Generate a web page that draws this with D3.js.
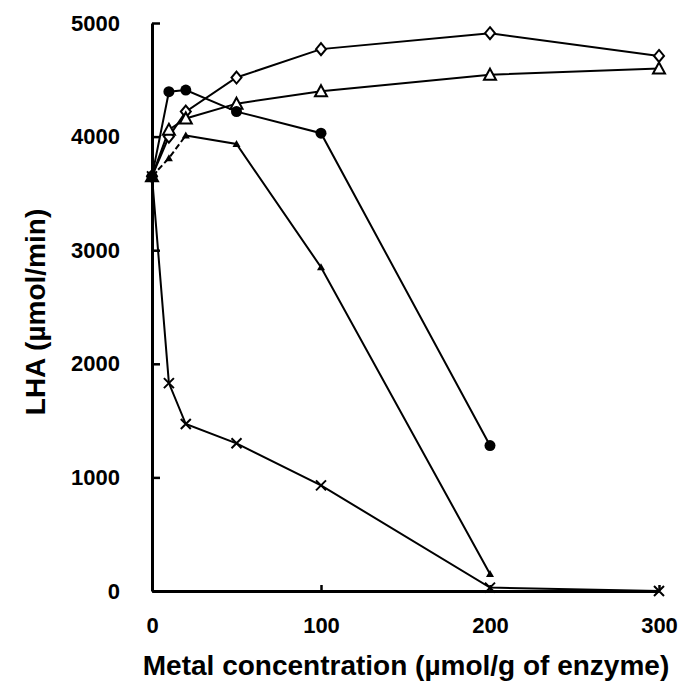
<!DOCTYPE html>
<html>
<head>
<meta charset="utf-8">
<script src="https://cdn.jsdelivr.net/npm/d3@7"></script>
<style>
  body { margin: 0; background: #fff; }
  text { font-family: "Liberation Sans", Arial, sans-serif; font-weight: bold; fill: #000; }
</style>
</head>
<body>
<div id="chart-area"></div>
<script>
const MARGIN = { LEFT: 152, RIGHT: 33, TOP: 23, BOTTOM: 100 }
const WIDTH = 692 - MARGIN.LEFT - MARGIN.RIGHT
const HEIGHT = 691 - MARGIN.TOP - MARGIN.BOTTOM

// Data (metal concentration vs LHA)
const concentrations = [0, 10, 20, 50, 100, 200, 300]
const diamondVals  = [3650, 4000, 4220, 4520, 4770, 4910, 4710]
const triangleVals = [3650, 4060, 4160, 4290, 4400, 4545, 4600]
const circleVals   = [3650, 4395, 4410, 4220, 4030, 1280]
const smallTriVals = [3650, 3810, 4010, 3935, 2850, 150]
const crossVals    = [3650, 1830, 1470, 1300, 930, 30, 0]
const xTicks = [0, 100, 200, 300]
const yTicks = [0, 1000, 2000, 3000, 4000, 5000]

const svg = d3.select("#chart-area").append("svg")
    .attr("width", 692)
    .attr("height", 691)

const g = svg.append("g")
    .attr("transform", `translate(${MARGIN.LEFT}, ${MARGIN.TOP})`)

// Scales
const x = d3.scaleLinear().range([0, WIDTH]).domain([0, 300])
const y = d3.scaleLinear().range([HEIGHT, 0]).domain([0, 5000])

const pts = vals => vals.map((v, i) => [concentrations[i], v])
const line = d3.line().x(d => x(d[0])).y(d => y(d[1]))

// Axes (ticks pointing inward)
const yAxis = g.append("g").call(d3.axisLeft(y).tickValues(yTicks).tickFormat(d3.format("d"))
    .tickSize(-8).tickPadding(32).tickSizeOuter(0))
const xAxis = g.append("g").attr("transform", `translate(0, ${HEIGHT})`)
    .call(d3.axisBottom(x).tickValues(xTicks).tickFormat(d3.format("d"))
    .tickSize(-6).tickPadding(26).tickSizeOuter(0))
;[yAxis, xAxis].forEach(a => {
    a.select(".domain").attr("stroke-width", 3)
    a.selectAll(".tick line").attr("stroke-width", 2.5)
    a.selectAll(".tick text").attr("font-size", "22px").attr("font-family", "Liberation Sans, Arial").attr("font-weight", "bold")
})
xAxis.selectAll(".tick line").filter(d => d === 0).remove()

// Series lines
const series = [
    { vals: diamondVals, marker: "diamond" },
    { vals: triangleVals, marker: "triangle" },
    { vals: circleVals, marker: "circle" },
    { vals: smallTriVals, marker: "smalltri" },
    { vals: crossVals, marker: "cross" }
]

series.forEach(s => {
    const data = pts(s.vals)
    if (s.marker === "smalltri") {
        g.append("path").datum(data.slice(0, 3)).attr("d", line)
            .attr("fill", "none").attr("stroke", "#000").attr("stroke-width", 2).attr("stroke-dasharray", "6,3")
        g.append("path").datum(data.slice(2)).attr("d", line)
            .attr("fill", "none").attr("stroke", "#000").attr("stroke-width", 2)
    } else {
        g.append("path").datum(data).attr("d", line)
            .attr("fill", "none").attr("stroke", "#000").attr("stroke-width", 2)
    }
})

// Markers
series.forEach(s => {
    const data = pts(s.vals)
    const m = g.selectAll(null).data(data).enter().append("g")
        .attr("transform", d => `translate(${x(d[0])}, ${y(d[1])})`)
    if (s.marker === "diamond") {
        m.append("path").attr("d", "M0,-6L5,0L0,6L-5,0Z")
            .attr("fill", "#fff").attr("stroke", "#000").attr("stroke-width", 2)
    } else if (s.marker === "triangle") {
        m.append("path").attr("d", "M0,-6L6,5L-6,5Z")
            .attr("fill", "#fff").attr("stroke", "#000").attr("stroke-width", 2)
    } else if (s.marker === "circle") {
        m.append("circle").attr("r", 5.5).attr("fill", "#000")
    } else if (s.marker === "smalltri") {
        m.append("path").attr("d", "M0,-4L4,3L-4,3Z").attr("fill", "#000")
    } else {
        m.append("path").attr("d", "M-5,-5L5,5M5,-5L-5,5")
            .attr("stroke", "#000").attr("stroke-width", 2)
    }
})

// Labels
g.append("text")
    .attr("x", 406 - MARGIN.LEFT)
    .attr("y", HEIGHT + 84)
    .attr("font-size", "28px")
    .attr("text-anchor", "middle")
    .text("Metal concentration (µmol/g of enzyme)")
g.append("text")
    .attr("transform", "rotate(-90)")
    .attr("x", -(312 - MARGIN.TOP))
    .attr("y", -107)
    .attr("font-size", "28px")
    .attr("text-anchor", "middle")
    .text("LHA (µmol/min)")
</script>
</body>
</html>
